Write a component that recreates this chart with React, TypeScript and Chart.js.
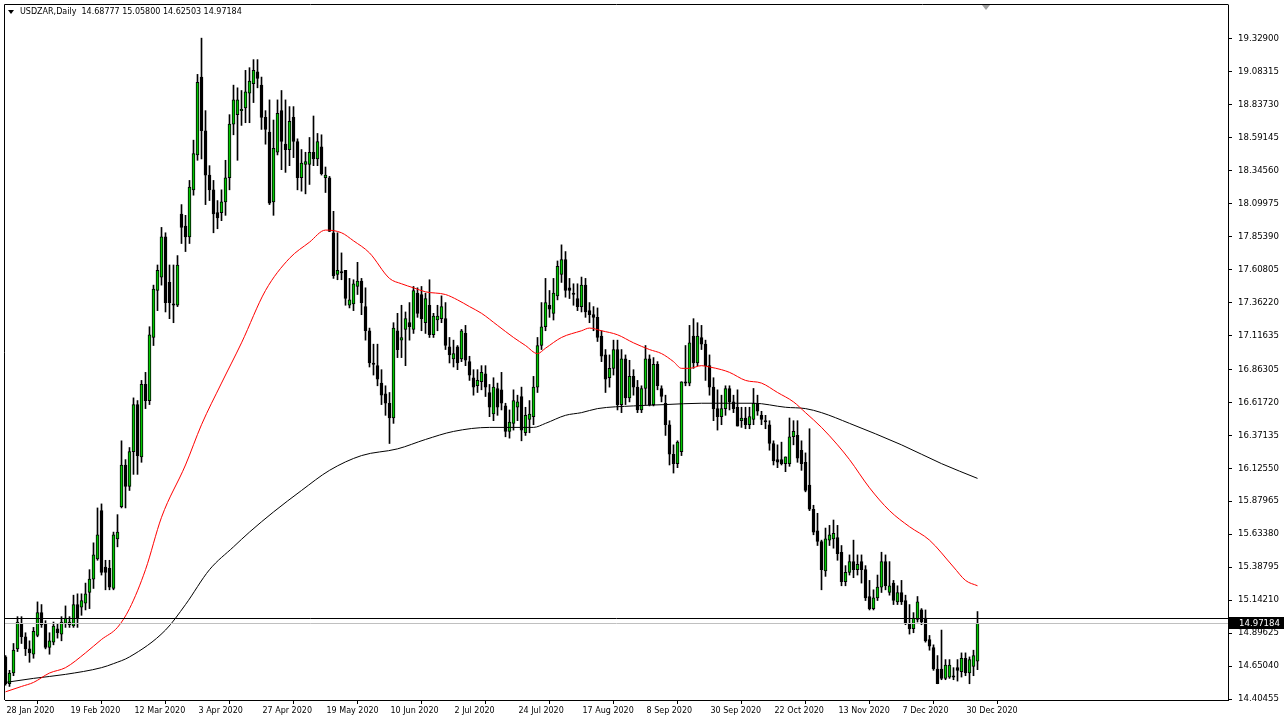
import { useEffect, useRef } from 'react';
import { Chart, registerables } from 'chart.js';

Chart.register(...registerables);

const symbolTitle = 'USDZAR,Daily';

const opens = [
  14.72, 14.52, 14.60, 14.78, 14.97, 14.87, 14.78, 14.74, 14.88, 15.05,
  14.97, 14.79, 14.83, 14.93, 14.89, 14.97, 14.96, 14.95, 15.11, 15.09,
  15.12, 15.20, 15.30, 15.45, 15.81, 15.39, 15.38, 15.23, 15.60, 15.84,
  16.15, 15.99, 16.25, 16.60, 16.21, 16.75, 16.63, 17.10, 17.45, 17.55,
  17.85, 17.51, 17.35, 17.34, 18.02, 17.93, 17.85, 18.20, 18.46, 19.04,
  18.64, 18.31, 18.20, 18.03, 18.03, 18.11, 18.29, 18.69, 18.76, 18.79,
  18.81, 18.92, 18.99, 19.08, 18.98, 18.74, 18.63, 18.11, 18.48, 18.79,
  18.54, 18.50, 18.74, 18.56, 18.29, 18.39, 18.39, 18.48, 18.43, 18.52,
  18.29, 18.29, 17.88, 17.57, 17.59, 17.60, 17.34, 17.35, 17.48, 17.52,
  17.33, 17.15, 16.91, 16.89, 16.76, 16.68, 16.61, 16.50, 17.15, 17.08,
  17.16, 17.21, 17.16, 17.43, 17.42, 17.21, 17.34, 17.12, 17.23, 17.24,
  17.24, 17.03, 16.94, 17.03, 16.94, 17.13, 16.92, 16.80, 16.74, 16.77,
  16.83, 16.69, 16.53, 16.72, 16.71, 16.59, 16.40, 16.46, 16.58, 16.66,
  16.39, 16.49, 16.51, 16.73, 17.04, 17.18, 17.34, 17.28, 17.41, 17.57,
  17.68, 17.47, 17.43, 17.39, 17.33, 17.49, 17.30, 17.27, 17.25, 17.11,
  16.97, 16.80, 16.87, 17.01, 16.60, 16.94, 16.65, 16.81, 16.73, 16.56,
  16.72, 16.94, 16.60, 16.90, 16.72, 16.61, 16.45, 16.23, 16.16, 16.25,
  16.77, 16.76, 17.11, 16.91, 17.10, 17.05, 16.89, 16.73, 16.57, 16.51,
  16.57, 16.72, 16.62, 16.58, 16.48, 16.50, 16.45, 16.49, 16.61, 16.52,
  16.48, 16.45, 16.31, 16.19, 16.19, 16.16, 16.16, 16.36, 16.37, 16.26,
  16.17, 16.00, 15.82, 15.66, 15.58, 15.36, 15.59, 15.60, 15.61, 15.50,
  15.28, 15.35, 15.43, 15.37, 15.43, 15.37, 15.17, 15.08, 15.16, 15.24,
  15.43, 15.20, 15.27, 15.13, 15.20, 15.14, 14.97, 14.93, 15.00, 15.07,
  15.01, 14.85, 14.79, 14.63, 14.63, 14.56, 14.57, 14.58, 14.64, 14.61,
  14.71, 14.60, 14.65, 14.68777,
];

const highs = [
  14.73, 14.62, 14.82, 15.02, 15.02, 14.90, 14.84, 14.94, 15.13, 15.11,
  14.99, 14.90, 14.98, 14.97, 15.02, 15.10, 15.02, 15.18, 15.19, 15.19,
  15.27, 15.37, 15.57, 15.83, 15.86, 15.44, 15.44, 15.65, 15.78, 16.33,
  16.19, 16.28, 16.65, 16.63, 16.78, 16.84, 17.18, 17.49, 17.64, 17.92,
  17.88, 17.64, 17.64, 17.71, 18.09, 18.01, 18.27, 18.57, 19.06, 19.33,
  18.79, 18.38, 18.27, 18.12, 18.20, 18.42, 18.76, 18.98, 18.96, 18.94,
  19.09, 19.11, 19.17, 19.17, 19.04, 18.79, 18.87, 18.72, 18.87, 18.94,
  18.87, 18.82, 18.82, 18.58, 18.50, 18.48, 18.59, 18.75, 18.62, 18.61,
  18.37, 18.30, 18.04, 17.88, 17.73, 17.60, 17.54, 17.53, 17.66, 17.54,
  17.47, 17.17, 17.05, 17.05, 16.86, 16.74, 16.69, 17.21, 17.28, 17.34,
  17.29, 17.36, 17.48, 17.47, 17.48, 17.43, 17.53, 17.28, 17.34, 17.41,
  17.36, 17.10, 17.08, 17.04, 17.16, 17.19, 16.96, 16.86, 16.86, 16.89,
  16.89, 16.75, 16.80, 16.76, 16.84, 16.61, 16.56, 16.71, 16.67, 16.73,
  16.58, 16.63, 16.81, 17.10, 17.36, 17.54, 17.45, 17.54, 17.67, 17.79,
  17.74, 17.54, 17.50, 17.50, 17.55, 17.54, 17.36, 17.33, 17.32, 17.15,
  17.01, 16.97, 17.08, 17.08, 17.01, 16.97, 16.93, 16.86, 16.78, 16.74,
  17.04, 16.97, 16.95, 16.92, 16.74, 16.67, 16.48, 16.30, 16.33, 16.77,
  17.04, 17.19, 17.24, 17.21, 17.19, 17.08, 16.97, 16.80, 16.71, 16.67,
  16.74, 16.74, 16.67, 16.71, 16.58, 16.58, 16.58, 16.72, 16.67, 16.55,
  16.52, 16.48, 16.33, 16.30, 16.32, 16.21, 16.50, 16.48, 16.48, 16.33,
  16.24, 16.42, 15.85, 15.79, 15.59, 15.68, 15.70, 15.74, 15.70, 15.55,
  15.40, 15.48, 15.59, 15.48, 15.48, 15.40, 15.29, 15.22, 15.33, 15.50,
  15.48, 15.43, 15.29, 15.25, 15.29, 15.18, 15.11, 15.05, 15.17, 15.08,
  15.07, 14.88, 14.81, 14.73, 14.92, 14.70, 14.70, 14.64, 14.70, 14.75,
  14.75, 14.72, 14.77, 15.058,
];

const lows = [
  14.51, 14.50, 14.58, 14.76, 14.82, 14.73, 14.68, 14.71, 14.87, 14.94,
  14.78, 14.74, 14.81, 14.86, 14.84, 14.94, 14.94, 14.94, 14.94, 15.03,
  15.07, 15.08, 15.23, 15.44, 15.33, 15.22, 15.22, 15.22, 15.54, 15.83,
  15.83, 15.96, 16.08, 16.08, 16.17, 16.57, 16.60, 17.04, 17.30, 17.49,
  17.29, 17.24, 17.21, 17.33, 17.80, 17.74, 17.80, 18.16, 18.42, 18.43,
  18.09, 18.12, 17.88, 17.91, 17.97, 18.01, 18.20, 18.61, 18.42, 18.68,
  18.70, 18.70, 18.85, 18.96, 18.65, 18.54, 18.09, 18.01, 18.46, 18.35,
  18.33, 18.38, 18.44, 18.20, 18.19, 18.17, 18.24, 18.38, 18.38, 18.31,
  18.18, 17.89, 17.54, 17.53, 17.53, 17.34, 17.32, 17.30, 17.42, 17.27,
  17.08, 16.88, 16.82, 16.74, 16.60, 16.52, 16.31, 16.46, 16.95, 16.95,
  16.89, 17.08, 17.13, 17.25, 17.15, 17.13, 17.10, 17.10, 17.15, 17.21,
  17.01, 16.91, 16.88, 16.86, 16.92, 16.89, 16.78, 16.67, 16.69, 16.71,
  16.66, 16.51, 16.48, 16.52, 16.56, 16.36, 16.35, 16.41, 16.48, 16.33,
  16.37, 16.39, 16.45, 16.69, 17.01, 17.15, 17.25, 17.23, 17.38, 17.51,
  17.40, 17.39, 17.34, 17.30, 17.29, 17.25, 17.21, 17.15, 17.07, 16.92,
  16.69, 16.73, 16.82, 16.56, 16.54, 16.60, 16.62, 16.67, 16.54, 16.54,
  16.60, 16.59, 16.59, 16.71, 16.62, 16.37, 16.15, 16.09, 16.13, 16.22,
  16.74, 16.74, 16.87, 16.89, 17.01, 16.78, 16.67, 16.48, 16.41, 16.45,
  16.52, 16.56, 16.54, 16.44, 16.43, 16.42, 16.42, 16.45, 16.52, 16.45,
  16.42, 16.26, 16.15, 16.13, 16.15, 16.10, 16.14, 16.30, 16.17, 16.11,
  15.95, 15.81, 15.63, 15.55, 15.22, 15.32, 15.55, 15.53, 15.44, 15.25,
  15.25, 15.33, 15.31, 15.33, 15.27, 15.14, 15.07, 15.07, 15.14, 15.20,
  15.22, 15.18, 15.11, 15.11, 15.11, 14.96, 14.89, 14.90, 14.98, 14.96,
  14.83, 14.77, 14.62, 14.52, 14.55, 14.55, 14.56, 14.55, 14.54, 14.57,
  14.58, 14.52, 14.58, 14.62503,
];

const closes = [
  14.52, 14.60, 14.77, 14.98, 14.87, 14.78, 14.75, 14.91, 15.05, 14.96,
  14.79, 14.84, 14.95, 14.90, 14.98, 15.01, 14.98, 15.11, 15.01, 15.14,
  15.19, 15.30, 15.48, 15.63, 15.35, 15.35, 15.24, 15.63, 15.65, 16.15,
  15.99, 16.25, 16.60, 16.22, 16.75, 16.63, 17.12, 17.46, 17.60, 17.85,
  17.36, 17.36, 17.34, 17.64, 17.92, 17.85, 18.22, 18.47, 19.00, 18.64,
  18.31, 18.20, 18.02, 17.99, 18.11, 18.29, 18.69, 18.87, 18.87, 18.80,
  18.93, 19.01, 19.09, 19.03, 18.74, 18.65, 18.10, 18.51, 18.77, 18.56,
  18.50, 18.71, 18.56, 18.29, 18.40, 18.41, 18.48, 18.43, 18.56, 18.32,
  18.31, 17.89, 17.56, 17.60, 17.58, 17.39, 17.38, 17.50, 17.52, 17.36,
  17.15, 16.91, 16.90, 16.79, 16.67, 16.61, 16.50, 17.17, 17.01, 17.10,
  17.24, 17.18, 17.45, 17.28, 17.24, 17.39, 17.12, 17.26, 17.26, 17.33,
  17.04, 16.97, 16.98, 16.91, 17.15, 16.93, 16.82, 16.73, 16.78, 16.84,
  16.73, 16.58, 16.73, 16.58, 16.61, 16.40, 16.47, 16.63, 16.62, 16.41,
  16.52, 16.53, 16.73, 17.04, 17.18, 17.36, 17.31, 17.43, 17.63, 17.68,
  17.45, 17.45, 17.42, 17.33, 17.49, 17.29, 17.27, 17.25, 17.10, 16.96,
  16.79, 16.87, 17.01, 16.60, 16.94, 16.65, 16.81, 16.73, 16.56, 16.72,
  16.94, 16.60, 16.90, 16.74, 16.66, 16.45, 16.23, 16.16, 16.32, 16.77,
  16.76, 17.06, 16.91, 17.11, 17.05, 16.89, 16.73, 16.57, 16.51, 16.57,
  16.72, 16.62, 16.57, 16.44, 16.50, 16.45, 16.51, 16.61, 16.55, 16.49,
  16.47, 16.31, 16.18, 16.17, 16.16, 16.21, 16.36, 16.40, 16.20, 16.16,
  15.96, 15.82, 15.65, 15.58, 15.37, 15.60, 15.63, 15.64, 15.49, 15.28,
  15.35, 15.43, 15.37, 15.41, 15.37, 15.16, 15.08, 15.16, 15.24, 15.43,
  15.25, 15.25, 15.14, 15.20, 15.13, 14.97, 14.93, 15.01, 15.13, 14.98,
  14.84, 14.80, 14.63, 14.52, 14.56, 14.66, 14.66, 14.57, 14.62, 14.71,
  14.60, 14.70, 14.73, 14.97184,
];

// Red moving average (bar index, value)
const maRedBars = [
  0, 4, 7, 11, 15, 20, 24, 28, 31, 35,
  39, 45, 49, 54, 59, 65, 71, 76, 80, 84,
  87, 91, 96, 99, 102, 105, 110, 113, 116, 119,
  123, 127, 130, 133, 135, 139, 144, 146, 149, 153,
  157, 161, 164, 167, 169, 171, 174, 176, 179, 181,
  185, 189, 193, 197, 200, 204, 208, 211, 216, 221,
  226, 231, 237, 240, 243,
];
const maRedValues = [
  14.46, 14.50, 14.53, 14.60, 14.64, 14.75, 14.85, 14.94, 15.08, 15.37,
  15.76, 16.15, 16.45, 16.76, 17.06, 17.45, 17.69, 17.81, 17.90, 17.88,
  17.82, 17.73, 17.54, 17.50, 17.47, 17.44, 17.42, 17.38, 17.33, 17.28,
  17.19, 17.10, 17.04, 16.98, 17.02, 17.10, 17.15, 17.17, 17.15, 17.12,
  17.06, 17.01, 16.98, 16.92, 16.87, 16.87, 16.89, 16.88, 16.86, 16.84,
  16.78, 16.76, 16.69, 16.62, 16.54, 16.43, 16.30, 16.19, 15.98, 15.81,
  15.69, 15.59, 15.39, 15.29, 15.25,
];

// Black moving average (bar index, value)
const maBlackBars = [
  0, 7, 15, 24, 27, 31, 40, 45, 51, 57,
  61, 67, 74, 81, 89, 98, 105, 112, 121, 132,
  135, 140, 144, 148, 157, 165, 174, 187, 195, 200,
  204, 211, 224, 234, 243,
];
const maBlackValues = [
  14.53, 14.56, 14.59, 14.64, 14.67, 14.72, 14.92, 15.11, 15.37, 15.54,
  15.65, 15.80, 15.96, 16.11, 16.22, 16.27, 16.34, 16.40, 16.43, 16.43,
  16.46, 16.52, 16.54, 16.57, 16.59, 16.60, 16.61, 16.61, 16.58, 16.57,
  16.54, 16.46, 16.30, 16.16, 16.05,
];

const horizontalLevel = 15.01;
const bidPrice = 14.97184;

const xTickBars = [0, 16, 32, 48, 64, 80, 96, 112, 128, 144, 160, 176, 192, 208, 224, 240];
const xTickLabels = [
  '28 Jan 2020', '19 Feb 2020', '12 Mar 2020', '3 Apr 2020', '27 Apr 2020', '19 May 2020',
  '10 Jun 2020', '2 Jul 2020', '24 Jul 2020', '17 Aug 2020', '8 Sep 2020', '30 Sep 2020',
  '22 Oct 2020', '13 Nov 2020', '7 Dec 2020', '30 Dec 2020',
];
const yTickValues = [
  19.329, 19.08315, 18.8373, 18.59145, 18.3456, 18.09975, 17.8539, 17.60805, 17.3622,
  17.11635, 16.86305, 16.6172, 16.37135, 16.1255, 15.87965, 15.6338, 15.38795, 15.1421,
  14.89625, 14.6504, 14.40455,
];

const FONT = 'DejaVu Sans';
const BULL = '#00c800';

export default function App() {
  const ref = useRef<HTMLCanvasElement | null>(null);

  useEffect(() => {
    document.body.style.margin = '0';
    const canvas = ref.current;
    if (!canvas) return;
    const idx = opens.map((_, i) => i);
    const last = opens.length - 1;

    const mtPlugin = {
      id: 'mtPlugin',
      beforeDraw(chart: any) {
        const { ctx, width, height } = chart;
        ctx.save();
        ctx.fillStyle = '#ffffff';
        ctx.fillRect(0, 0, width, height);
        ctx.restore();
      },
      afterDatasetsDraw(chart: any) {
        const { ctx, chartArea, scales } = chart;
        const y = scales.y;
        ctx.save();
        ctx.lineWidth = 1;
        const yb = Math.round(y.getPixelForValue(bidPrice)) + 0.5;
        ctx.strokeStyle = '#c0c0c0';
        ctx.beginPath();
        ctx.moveTo(chartArea.left, yb);
        ctx.lineTo(chartArea.right, yb);
        ctx.stroke();
        const yl = Math.round(y.getPixelForValue(horizontalLevel)) + 0.5;
        ctx.strokeStyle = '#000000';
        ctx.beginPath();
        ctx.moveTo(chartArea.left, yl);
        ctx.lineTo(chartArea.right, yl);
        ctx.stroke();
        ctx.restore();
      },
      afterDraw(chart: any) {
        const { ctx, chartArea, scales } = chart;
        ctx.save();
        ctx.strokeStyle = '#000';
        ctx.lineWidth = 1;
        ctx.beginPath();
        ctx.moveTo(chartArea.left - 0.5, chartArea.bottom);
        ctx.lineTo(chartArea.left - 0.5, chartArea.top - 0.5);
        ctx.lineTo(chartArea.right + 0.5, chartArea.top - 0.5);
        ctx.stroke();

        // title
        ctx.fillStyle = '#000';
        ctx.font = `8px "${FONT}"`;
        ctx.textBaseline = 'middle';
        ctx.textAlign = 'left';
        ctx.beginPath();
        ctx.moveTo(8, 10);
        ctx.lineTo(14, 10);
        ctx.lineTo(11, 14);
        ctx.closePath();
        ctx.fill();
        const title = `${symbolTitle}  ${opens[last].toFixed(5)} ${highs[last].toFixed(5)} ${lows[last].toFixed(5)} ${closes[last].toFixed(5)}`;
        ctx.fillText(title, 20, 12);

        // bid label
        const yb = Math.round(scales.y.getPixelForValue(bidPrice));
        ctx.fillStyle = '#000';
        ctx.fillRect(chartArea.right + 1, yb - 6, 55, 12);
        ctx.fillStyle = '#fff';
        ctx.font = `8.6px "${FONT}"`;
        ctx.fillText(bidPrice.toFixed(5), chartArea.right + 11, yb + 0.5);

        // chart shift marker
        const xs = Math.round(scales.x.getPixelForValue(last + 2));
        ctx.fillStyle = '#a0a0a0';
        ctx.beginPath();
        ctx.moveTo(xs - 4, chartArea.top);
        ctx.lineTo(xs + 4, chartArea.top);
        ctx.lineTo(xs, chartArea.top + 5);
        ctx.closePath();
        ctx.fill();
        ctx.restore();
      },
    };

    const chart = new Chart(canvas, {
      type: 'bar',
      data: {
        datasets: [
          {
            type: 'line',
            label: 'MA red',
            data: maRedBars.map((b, k) => ({ x: b, y: maRedValues[k] })),
            borderColor: '#ff0000',
            borderWidth: 1,
            pointRadius: 0,
            cubicInterpolationMode: 'monotone',
            order: 0,
          },
          {
            type: 'line',
            label: 'MA black',
            data: maBlackBars.map((b, k) => ({ x: b, y: maBlackValues[k] })),
            borderColor: '#000000',
            borderWidth: 1,
            pointRadius: 0,
            cubicInterpolationMode: 'monotone',
            order: 0,
          },
          {
            type: 'bar',
            label: 'body',
            data: idx.map((i) => ({ x: i, y: [opens[i], closes[i]] })),
            backgroundColor: idx.map((i) => (closes[i] >= opens[i] ? BULL : '#000000')),
            borderColor: '#000000',
            borderWidth: 1,
            borderSkipped: false,
            barThickness: 3,
            minBarLength: 1,
            grouped: false,
            order: 1,
          },
          {
            type: 'bar',
            label: 'wick',
            data: idx.map((i) => ({ x: i, y: [lows[i], highs[i]] })),
            backgroundColor: '#000000',
            borderWidth: 0,
            barThickness: 1,
            grouped: false,
            order: 2,
          },
        ] as any,
      },
      options: {
        animation: false,
        responsive: true,
        maintainAspectRatio: false,
        devicePixelRatio: 1,
        events: [],
        layout: { padding: { left: 5, top: 5, right: 0, bottom: 0 } },
        plugins: { legend: { display: false }, tooltip: { enabled: false } },
        scales: {
          x: {
            type: 'linear',
            min: -0.125,
            max: 305.625,
            offset: false,
            afterBuildTicks: (s: any) => {
              s.ticks = xTickBars.map((v) => ({ value: v }));
            },
            afterFit: (s: any) => {
              s.height = 24;
              s.paddingLeft = 0;
              s.paddingRight = 0;
            },
            ticks: {
              autoSkip: false,
              maxRotation: 0,
              align: 'start',
              labelOffset: 1,
              padding: 2,
              color: '#000',
              font: { family: FONT, size: 8 },
              callback: (_v: any, k: number) => xTickLabels[k],
            },
            grid: { drawOnChartArea: false, drawTicks: true, tickLength: 4, color: '#000' },
            border: { display: true, color: '#000' },
          },
          y: {
            type: 'linear',
            position: 'right',
            min: 14.399,
            max: 19.577,
            afterBuildTicks: (s: any) => {
              s.ticks = yTickValues.map((v) => ({ value: v }));
            },
            afterFit: (s: any) => {
              s.width = 58;
              s.paddingTop = 0;
              s.paddingBottom = 0;
            },
            ticks: {
              autoSkip: false,
              padding: 6,
              color: '#000',
              font: { family: FONT, size: 8.6 },
              callback: (v: any) => Number(v).toFixed(5),
            },
            grid: { drawOnChartArea: false, drawTicks: true, tickLength: 4, color: '#000' },
            border: { display: true, color: '#000' },
          },
        },
      } as any,
      plugins: [mtPlugin],
    });

    return () => chart.destroy();
  }, []);

  return (
    <div style={{ position: 'fixed', left: 0, top: 0, width: 1286, height: 724, background: '#fff' }}>
      <canvas ref={ref} />
    </div>
  );
}
